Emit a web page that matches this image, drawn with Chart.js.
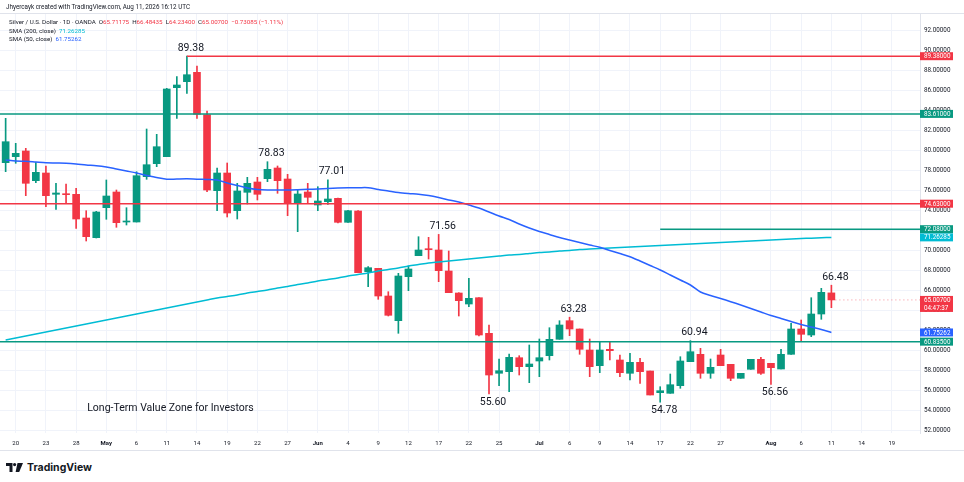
<!DOCTYPE html>
<html>
<head>
<meta charset="utf-8">
<script src="https://cdn.jsdelivr.net/npm/chart.js@4.4.1/dist/chart.umd.min.js"></script>
<style>
  html, body { margin:0; padding:0; background:#fff; width:964px; height:482px; overflow:hidden;
    font-family: Roboto, "Liberation Sans", sans-serif; color:#131722; }
  #wrap { position:absolute; left:0; top:0; width:964px; height:452px; }
  #topline { position:absolute; left:0; top:13px; width:964px; height:1px; background:#e0e3eb; }
  #botline { position:absolute; left:0; top:450px; width:964px; height:1px; background:#e0e3eb; }
  #hdr { position:absolute; left:6px; top:3px; font-size:6.3px; line-height:8px; color:#131722; }
  #leg { position:absolute; left:9px; top:18px; font-size:6.2px; line-height:8.5px; color:#131722; }
  #leg .r { color:#f23645; }
  #leg .c { color:#00bcd4; }
  #leg .b { color:#2962ff; }
  #logo { position:absolute; left:6px; top:460px; height:14px; display:flex; align-items:center; }
  #logo span { font-family: Inter, Roboto, sans-serif; font-weight:700; font-size:10.5px; margin-left:4px; color:#131722; }
</style>
</head>
<body>
<div id="wrap"><canvas id="chart"></canvas></div>
<div id="topline"></div>
<div id="botline"></div>
<div id="hdr">Jhyercayk created with TradingView.com, Aug 11, 2026 16:12 UTC</div>
<div id="leg">
  <div>Silver / U.S. Dollar · 1D · OANDA&nbsp; O<span class="r">65.71175</span>&nbsp; H<span class="r">66.48435</span>&nbsp; L<span class="r">64.23400</span>&nbsp; C<span class="r">65.00700</span>&nbsp; <span class="r">−0.73085 (−1.11%)</span></div>
  <div>SMA (200, close)&nbsp; <span class="c">71.26285</span></div>
  <div>SMA (50, close)&nbsp; <span class="b">61.75262</span></div>
</div>
<div id="logo">
  <svg width="17" height="9" viewBox="0 0 17 9">
    <path d="M0 0H6.5V9H3.5V3H0Z" fill="#131722"/>
    <circle cx="8.6" cy="1.6" r="1.6" fill="#131722"/>
    <path d="M11.5 0H17L13.2 9H9.6Z" fill="#131722"/>
  </svg>
  <span>TradingView</span>
</div>

<script>

// =====================================
// 📊 DATA
// =====================================

const GREEN = "#089981";
const RED = "#f23645";
const CYAN = "#00bcd4";
const BLUE = "#2962ff";

// first candle = Apr 17 (index -1), last = Aug 11 (index 81)
const firstIdx = -1;

const opens = [
  78.73,79.33,79.90,76.93,77.70,75.57,75.60,75.57,73.20,71.23,
  74.23,75.80,72.80,72.80,77.33,78.63,79.33,86.23,86.83,87.77,
  83.53,75.93,77.70,73.93,75.77,76.80,77.13,78.20,77.10,74.67,
  75.80,74.50,74.83,75.17,72.77,73.90,67.83,68.17,65.40,62.93,
  67.33,69.43,70.13,70.00,67.90,65.70,64.60,65.23,61.67,57.67,
  57.83,59.23,58.33,58.90,59.43,61.07,62.93,62.10,60.00,58.43,
  60.07,59.00,57.67,58.77,57.90,55.73,55.67,56.43,58.83,59.57,
  57.67,59.50,58.57,57.17,58.07,59.07,58.67,58.10,59.57,62.10,
  61.50,63.60,65.71
];

const highs = [
  83.17,80.67,80.17,78.73,78.40,76.67,76.60,76.17,73.93,73.87,
  77.00,76.00,74.23,77.83,82.10,81.57,86.17,87.33,89.38,88.40,
  83.90,78.20,78.70,76.67,77.27,77.27,78.83,78.40,77.57,76.07,
  76.67,76.33,77.01,75.20,73.97,73.93,68.33,68.17,65.83,67.67,
  68.40,71.33,71.27,71.56,69.90,65.73,67.17,65.23,62.50,59.10,
  59.60,59.43,60.50,61.10,62.23,62.93,63.28,62.10,61.10,60.77,
  60.77,59.50,59.67,59.17,57.90,56.33,57.60,59.33,60.94,60.17,
  59.10,60.07,58.57,57.67,59.07,59.27,58.67,60.07,62.67,63.00,
  65.23,66.17,66.48
];

const lows = [
  77.83,78.67,75.43,76.73,74.33,74.07,74.67,72.17,70.90,71.20,
  73.07,72.27,72.50,72.80,77.07,78.33,79.33,83.17,85.67,83.17,
  75.83,73.93,73.30,73.10,74.60,75.00,76.83,75.67,73.43,71.83,
  74.67,73.93,74.57,72.70,72.77,67.73,66.33,65.07,63.40,61.67,
  65.93,69.43,69.10,66.83,65.73,63.40,64.33,61.40,55.60,56.43,
  55.83,57.50,56.73,57.33,59.00,61.07,61.43,59.57,57.33,57.73,
  59.00,57.33,57.00,56.67,55.50,54.78,55.67,56.17,58.83,57.17,
  57.17,58.43,56.93,57.17,58.07,57.57,56.56,58.10,59.57,60.90,
  61.33,63.07,64.23
];

const closes = [
  80.83,79.67,76.67,77.77,75.43,75.70,75.53,73.10,71.33,73.80,
  75.40,72.73,72.90,77.43,78.53,80.33,86.10,86.50,87.53,83.57,
  76.00,77.70,73.70,75.90,76.67,75.57,78.07,76.93,74.67,75.60,
  75.27,74.90,75.10,72.77,73.93,67.73,68.23,65.40,63.47,67.40,
  68.10,70.00,70.03,67.93,65.73,64.93,65.17,61.50,57.50,57.93,
  59.27,58.33,58.60,59.23,61.07,62.50,62.10,60.07,58.33,60.00,
  59.93,57.73,58.77,57.83,55.50,55.93,56.53,58.90,59.83,57.67,
  58.27,58.43,57.17,57.67,59.07,57.67,58.23,59.57,62.10,61.57,
  63.60,65.77,65.007
];

const sma50 = [
  79.00,78.90,78.87,78.80,78.73,78.70,78.67,78.60,78.50,78.43,
  78.30,78.10,77.90,77.70,77.45,77.25,77.07,77.10,77.12,77.08,
  77.05,77.00,76.70,76.45,76.20,76.05,76.00,76.00,76.00,76.03,
  76.07,76.10,76.15,76.20,76.23,76.23,76.23,76.05,75.90,75.75,
  75.65,75.57,75.45,75.25,75.00,74.80,74.50,74.20,73.80,73.40,
  73.05,72.60,72.20,71.85,71.55,71.25,71.00,70.75,70.50,70.27,
  69.95,69.65,69.33,68.90,68.45,68.00,67.50,67.00,66.50,65.80,
  65.45,65.15,64.83,64.50,64.15,63.80,63.45,63.15,62.85,62.55,
  62.30,62.05,61.75
];

const sma200 = [
  61.00,61.20,61.40,61.60,61.80,62.00,62.20,62.40,62.60,62.80,
  63.00,63.20,63.40,63.60,63.80,64.00,64.20,64.40,64.60,64.80,
  65.00,65.20,65.35,65.50,65.70,65.85,66.00,66.20,66.35,66.55,
  66.70,66.90,67.05,67.20,67.40,67.55,67.70,67.90,68.05,68.20,
  68.40,68.55,68.70,68.80,68.90,69.00,69.10,69.20,69.30,69.40,
  69.50,69.55,69.65,69.75,69.80,69.90,69.95,70.05,70.10,70.15,
  70.20,70.25,70.30,70.35,70.40,70.45,70.50,70.55,70.60,70.65,
  70.70,70.75,70.80,70.85,70.90,70.95,71.00,71.05,71.10,71.15,
  71.18,71.22,71.26
];

const tickIdx = [0,3,6,9,12,15,18,21,24,27,30,33,36,39,42,45,48,52,55,58,61,64,67,70,75,78,81,84,87];
const tickText = ["20","23","28","May","6","11","14","19","22","27","Jun","4","9","12","17","22","25","Jul","6","9","14","17","22","27","Aug","6","11","14","19"];
const monthTicks = ["May","Jun","Jul","Aug"];

const priceTicks = [52,54,56,58,60,62,64,66,68,70,72,74,76,78,80,82,84,86,88,90,92];

const levelPrices = [89.38, 83.61, 74.63, 72.08, 60.835];
const levelStart = [17, -1.6, -1.6, 64, -1.6];
const levelColors = [RED, GREEN, RED, GREEN, GREEN];

const lastPrice = 65.007;

const boxPrices = [89.38, 83.61, 74.63, 72.08, 71.26285, 65.007, 61.75262, 60.835];
const boxColors = [RED, GREEN, RED, GREEN, CYAN, RED, BLUE, GREEN];
const boxSub = ["", "", "", "", "", "04:47:37", "", ""];

const noteIdx = [17, 25, 31, 42, 55, 67, 81, 47, 64, 75];
const noteText = ["89.38","78.83","77.01","71.56","63.28","60.94","66.48","55.60","54.78","56.56"];
const noteUp = [true, true, true, true, true, true, true, false, false, false];

const zoneText = "Long-Term Value Zone for Investors";
const zoneIdx = 7.1;
const zonePrice = 54.15;

const xMin = -1.56;
const xMax = 89.8;


// =====================================
// 🔧 DATASETS
// =====================================

const idx = opens.map((_, k) => k + firstIdx);

const candleColors = opens.map((o, k) =>
  closes[k] >= o ? GREEN : RED
);

const wickData = idx.map((x, k) => ({ x, y: [lows[k], highs[k]] }));
const bodyData = idx.map((x, k) => ({ x, y: [opens[k], closes[k]] }));

const levelSets = levelPrices.map((p, k) => ({
  type: "line",
  data: [{ x: levelStart[k], y: p }, { x: xMax, y: p }],
  borderColor: levelColors[k],
  borderWidth: 1.5,
  pointRadius: 0,
  order: 0
}));


// =====================================
// ✏️ TEXT + PRICE LABELS
// =====================================

const marksPlugin = {
  id: "marks",
  afterDatasetsDraw(chart){
    const ctx = chart.ctx;
    const xs = chart.scales.x;
    const ys = chart.scales.y;
    ctx.save();
    ctx.fillStyle = "#131722";
    ctx.font = "10.5px Roboto, sans-serif";
    ctx.textAlign = "center";
    noteIdx.forEach((n, k) => {
      const k2 = n - firstIdx;
      const px = xs.getPixelForValue(n) + 4;
      if(noteUp[k]){
        ctx.textBaseline = "bottom";
        ctx.fillText(noteText[k], px, ys.getPixelForValue(highs[k2]) - 3);
      } else {
        ctx.textBaseline = "top";
        ctx.fillText(noteText[k], px, ys.getPixelForValue(lows[k2]) + 3);
      }
    });
    ctx.font = "10.5px Roboto, sans-serif";
    ctx.textAlign = "left";
    ctx.textBaseline = "middle";
    ctx.fillText(zoneText, xs.getPixelForValue(zoneIdx), ys.getPixelForValue(zonePrice));
    ctx.restore();
  },
  afterDraw(chart){
    const ctx = chart.ctx;
    const ys = chart.scales.y;
    const left = chart.chartArea.right;
    ctx.save();
    ctx.font = "6.3px Roboto, sans-serif";
    ctx.textAlign = "left";
    ctx.textBaseline = "middle";
    boxPrices.forEach((p, k) => {
      const py = ys.getPixelForValue(p);
      const h = boxSub[k] ? 16 : 8;
      ctx.fillStyle = boxColors[k];
      ctx.fillRect(left, py - 4, 33, h);
      ctx.fillStyle = "#ffffff";
      ctx.fillText(p.toFixed(5), left + 4, py + 0.5);
      if(boxSub[k]){
        ctx.fillText(boxSub[k], left + 4, py + 8);
      }
    });
    ctx.restore();
  }
};


// =====================================
// 🚀 CHART
// =====================================

new Chart(document.getElementById("chart"), {
  type: "bar",
  data: {
    datasets: [
      ...levelSets,
      {
        type: "line",
        data: [{ x: 81, y: lastPrice }, { x: xMax, y: lastPrice }],
        borderColor: "rgba(242,54,69,0.55)",
        borderWidth: 1,
        borderDash: [1, 3],
        pointRadius: 0,
        order: 0
      },
      {
        type: "line",
        label: "SMA 50",
        data: idx.map((x, k) => ({ x, y: sma50[k] })),
        borderColor: BLUE,
        borderWidth: 1.5,
        pointRadius: 0,
        tension: 0.3,
        order: 1
      },
      {
        type: "line",
        label: "SMA 200",
        data: idx.map((x, k) => ({ x, y: sma200[k] })),
        borderColor: CYAN,
        borderWidth: 1.5,
        pointRadius: 0,
        tension: 0.3,
        order: 1
      },
      {
        label: "body",
        data: bodyData,
        backgroundColor: candleColors,
        barThickness: 7,
        minBarLength: 1,
        grouped: false,
        order: 2
      },
      {
        label: "wick",
        data: wickData,
        backgroundColor: candleColors,
        barThickness: 1,
        grouped: false,
        order: 3
      }
    ]
  },
  options: {
    responsive: true,
    maintainAspectRatio: false,
    animation: false,
    layout: { padding: { top: 13, left: 0, right: 0, bottom: 0 } },
    plugins: {
      legend: { display: false },
      tooltip: { enabled: false }
    },
    scales: {
      x: {
        type: "linear",
        min: xMin,
        max: xMax,
        offset: false,
        grid: { color: "#f0f3fa", drawTicks: false, offset: false },
        border: { display: false },
        afterBuildTicks: s => { s.ticks = tickIdx.map(v => ({ value: v })); },
        afterFit: s => { s.height = 19; s.paddingLeft = 0; s.paddingRight = 0; },
        ticks: {
          autoSkip: false,
          maxRotation: 0,
          padding: 7,
          color: "#131722",
          font: c => ({
            size: 6,
            family: "Roboto",
            weight: monthTicks.includes(c.tick && c.tick.label) ? "bold" : "normal"
          }),
          callback: (v, i) => tickText[i]
        }
      },
      y: {
        position: "right",
        min: 51.7,
        max: 93.7,
        grid: { color: "#f0f3fa", drawTicks: false },
        border: { display: true, color: "#e0e3eb" },
        afterBuildTicks: s => { s.ticks = priceTicks.map(v => ({ value: v })); },
        afterFit: s => { s.width = 44; },
        ticks: {
          padding: 4,
          color: "#131722",
          font: { size: 6.3, family: "Roboto" },
          callback: v => Number(v).toFixed(5)
        }
      }
    }
  },
  plugins: [marksPlugin]
});

</script>
</body>
</html>
